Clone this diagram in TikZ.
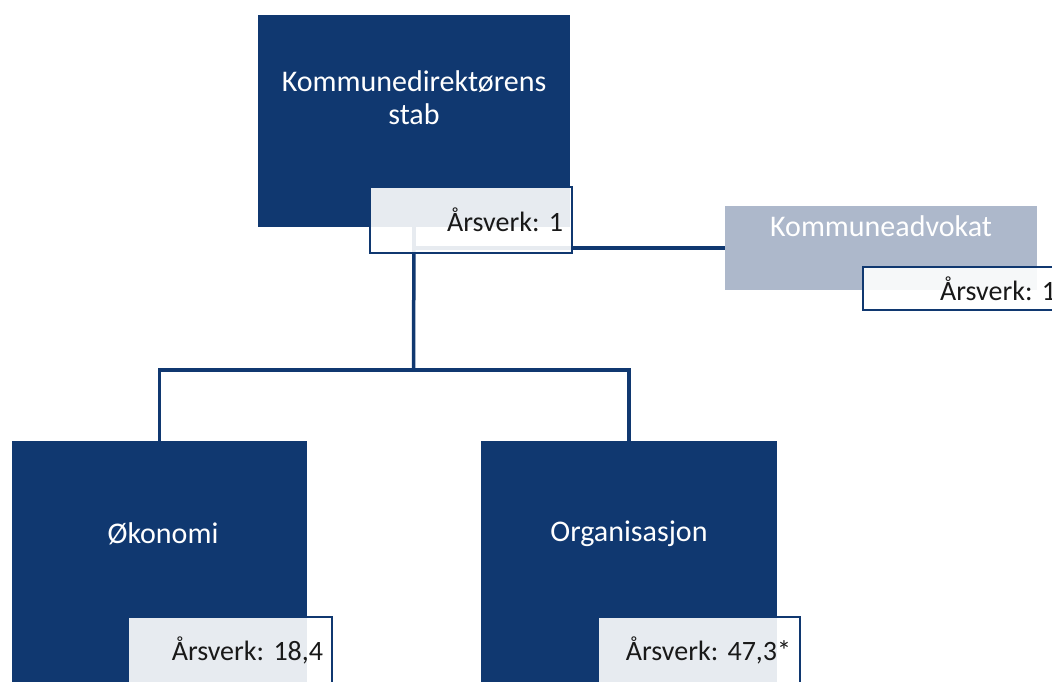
\documentclass[tikz,border=0pt]{standalone}
\usepackage{fontspec}
\setmainfont{Carlito}
\newfontfamily\labfont{Carlito}[WordSpace=0.6]
\frenchspacing
\definecolor{navy}{RGB}{16,56,112}
\definecolor{greyblue}{RGB}{173,184,203}
\definecolor{txt}{RGB}{25,25,25}
\begin{document}
\begin{tikzpicture}[x=1pt,y=-1pt,
  unit/.style={draw=none,fill=navy,text=white,inner sep=0pt,font=\fontsize{30}{33}\selectfont,align=center},
  staff/.style={draw=none,fill=greyblue,text=white,inner sep=0pt,font=\fontsize{30}{33}\selectfont},
  lab/.style={draw=navy,line width=2pt,fill=white,fill opacity=0.9,text opacity=1,text=txt,
     inner xsep=9pt,inner ysep=0pt,align=right,font=\labfont\fontsize{28}{30}\selectfont},
  conn/.style={draw=navy,line width=3.5pt}]
\useasboundingbox (0,0) rectangle (1052,682);
\clip (0,0) rectangle (1052,682);
\coordinate (bus) at (413.5,370);
% boxes (positions)
\node[unit,minimum width=312pt,minimum height=212pt] (top) at (414,121) {};
\node[staff,minimum width=312pt,minimum height=84pt] (adv) at (881,248) {};
\node[unit,minimum width=295pt,minimum height=250pt] (oko) at (159.5,566) {};
\node[unit,minimum width=296pt,minimum height=250pt] (org) at (629,566) {};
% connectors
\draw[conn] (top.south) |- (adv.west);
\draw[conn] (top.south) -- (bus);
\draw[conn] (bus) -| (oko.north);
\draw[conn] (bus) -| (org.north);
% redraw boxes over connectors
\fill[navy] (top.south west) rectangle (top.north east);
\fill[greyblue] (adv.south west) rectangle (adv.north east);
\fill[navy] (oko.south west) rectangle (oko.north east);
\fill[navy] (org.south west) rectangle (org.north east);
% titles
\node[unit,fill=none] (toptxt) at (414,98) {Kommunedirektørens\\stab};
\node[staff,fill=none] (advtxt) at (881,226) {Kommuneadvokat};
\node[unit,fill=none] (okotxt) at (163,534) {Økonomi};
\node[unit,fill=none] (orgtxt) at (629,534) {Organisasjon};
% labels
\node[lab,text width=184pt,minimum height=66pt] (topl) at (471,220) {Årsverk: 1};
\node[lab,text width=184pt,minimum height=43pt,anchor=north west] (advl) at (862,266) {Årsverk: 1};
\node[lab,text width=186pt,minimum height=66pt] (okol) at (230,650) {Årsverk: 18,4};
\node[lab,text width=184pt,minimum height=66pt] (orgl) at (699,650) {Årsverk: 47,3*};
\end{tikzpicture}
\end{document}
